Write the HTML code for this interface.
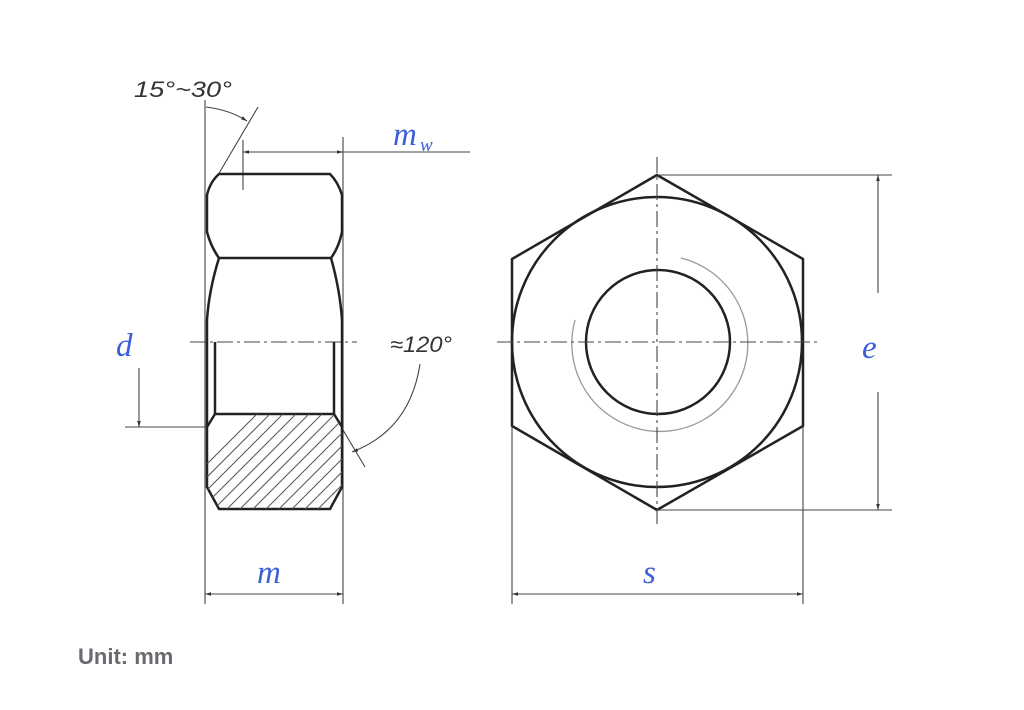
<!DOCTYPE html>
<html><head><meta charset="utf-8"><style>
html,body{margin:0;padding:0;background:#fff;width:1024px;height:710px;overflow:hidden}
svg{position:absolute;left:0;top:0}
.u{position:absolute;left:78px;top:644px;font:bold 22px "Liberation Sans",sans-serif;color:#676b70}
</style></head><body>
<svg width="1024" height="710" viewBox="0 0 1024 710">
<defs>
<marker id="a" viewBox="0 0 10 10" refX="10" refY="5" markerWidth="11" markerHeight="6" orient="auto-start-reverse" markerUnits="userSpaceOnUse"><path d="M0,2 L10,5 L0,8 z" fill="#333"/></marker>
<clipPath id="hc"><path d="M215,414 H334 L342,427 V487 L330,509 H219 L207,487 V427 Z"/></clipPath>
</defs>
<g fill="none" stroke="#222">
<g stroke-width="1.1" stroke="#444">
<line x1="205" y1="100" x2="205" y2="604"/>
<line x1="343" y1="137" x2="343" y2="604"/>
<line x1="243" y1="140" x2="243" y2="190"/>
<line x1="218" y1="175" x2="258" y2="107"/>
<path d="M206,107 Q230,110 247,121" marker-end="url(#a)"/>
<line x1="243" y1="152" x2="343" y2="152" marker-start="url(#a)" marker-end="url(#a)"/>
<line x1="343" y1="152" x2="470" y2="152"/>
<line x1="125" y1="427" x2="207" y2="427"/>
<line x1="139" y1="368" x2="139" y2="427" marker-end="url(#a)"/>
<line x1="205" y1="594" x2="343" y2="594" marker-start="url(#a)" marker-end="url(#a)"/>
<line x1="343" y1="430" x2="365" y2="467"/>
<path d="M420,364 Q410,430 352,452" marker-end="url(#a)"/>
<line x1="190" y1="342" x2="357" y2="342" stroke-dasharray="16,4,3,4"/>
</g>
<g stroke-width="2.5">
<path d="M219,174 H330 Q338,182 342,195 V232 Q339,247 331,258 H219 Q211,247 207,232 V195 Q210,182 219,174 Z"/>
<path d="M219,258 Q209,290 207,320 V487 L219,509 H330 L342,487 V320 Q340,290 331,258"/>
<path d="M215,342 V414 H334 V342"/>
<path d="M215,414 L207,427 M334,414 L342,427"/>
</g>
<g clip-path="url(#hc)" stroke-width="1" stroke="#555">
<path d="M150,560 L300,410 M163,560 L313,410 M176,560 L326,410 M189,560 L339,410 M202,560 L352,410 M215,560 L365,410 M228,560 L378,410 M241,560 L391,410 M254,560 L404,410 M267,560 L417,410 M280,560 L430,410 M293,560 L443,410 M306,560 L456,410 M319,560 L469,410 M137,560 L287,410 M124,560 L274,410 M111,560 L261,410"/>
</g>
<g stroke-width="2.5">
<path d="M657,175 L803,259 V426 L657,510 L512,426 V259 Z"/>
<circle cx="657" cy="342" r="145"/>
<circle cx="658" cy="342" r="72"/>
</g>
<path d="M681,258 A88,88 0 1 1 575,320" stroke="#999" stroke-width="1.3"/>
<g stroke-width="1.1" stroke="#444">
<line x1="497" y1="342" x2="818" y2="342" stroke-dasharray="16,4,3,4"/>
<line x1="657" y1="157" x2="657" y2="527" stroke-dasharray="16,4,3,4"/>
<line x1="657" y1="175" x2="892" y2="175"/>
<line x1="657" y1="510" x2="892" y2="510"/>
<line x1="878" y1="293" x2="878" y2="175" marker-end="url(#a)"/>
<line x1="878" y1="392" x2="878" y2="510" marker-end="url(#a)"/>
<line x1="512" y1="426" x2="512" y2="604"/>
<line x1="803" y1="426" x2="803" y2="604"/>
<line x1="512" y1="594" x2="803" y2="594" marker-start="url(#a)" marker-end="url(#a)"/>
</g>
</g>
<g font-family="Liberation Sans, sans-serif" font-style="italic" fill="#333" font-size="22">
<text x="134" y="97" textLength="98" lengthAdjust="spacingAndGlyphs">15°~30°</text>
<text x="390" y="352" textLength="62" lengthAdjust="spacingAndGlyphs">≈120°</text>
</g>
<g font-family="Liberation Serif, serif" font-style="italic" fill="#3b5fd9" font-size="33">
<text x="393" y="145">m</text><text x="420" y="151" font-size="19">w</text>
<text x="116" y="356">d</text>
<text x="862" y="358">e</text>
<text x="643" y="583">s</text>
<text x="257" y="583">m</text>
</g>
</svg>
<div class="u">Unit: mm</div>
</body></html>
